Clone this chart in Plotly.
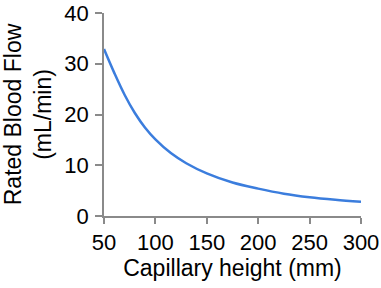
import plotly.graph_objects as go

capillary_height_mm = [50, 60, 70, 80, 90, 100, 115, 130, 150, 175, 200, 225, 250, 275, 300]
rated_flow_ml_min = [32.9, 28.2, 23.9, 20.3, 17.4, 15.1, 12.4, 10.4, 8.4, 6.6, 5.4, 4.4, 3.7, 3.2, 2.8]

x_ticks = [50, 100, 150, 200, 250, 300]
y_ticks = [0, 10, 20, 30, 40]

fig = go.Figure()
fig.add_trace(go.Scatter(
    x=capillary_height_mm, y=rated_flow_ml_min, mode="lines",
    line=dict(color="#3b7ddd", width=2.5, shape="spline", smoothing=1.0),
    showlegend=False, hoverinfo="skip", cliponaxis=False,
))

axis_color = "#8a8a8a"
fam = "Arial, Liberation Sans, sans-serif"
tick_font = dict(family=fam, size=22, color="black")
title_font = dict(family=fam, size=23, color="black")

fig.update_layout(
    width=381, height=288,
    margin=dict(l=104, r=20, t=13, b=72, autoexpand=False),
    paper_bgcolor="white", plot_bgcolor="white",
    font=tick_font,
    xaxis=dict(
        range=[50, 300], tickvals=x_ticks, ticktext=[str(v) for v in x_ticks],
        showline=True, linecolor=axis_color, linewidth=1.5,
        ticks="outside", ticklen=6, tickcolor=axis_color, tickwidth=1.5,
        tickfont=tick_font, automargin=False,
        showgrid=False, zeroline=False,
        title=dict(text="Capillary height (mm)", standoff=4, font=title_font),
    ),
    yaxis=dict(
        range=[0, 40], tickvals=y_ticks, ticktext=[str(v) for v in y_ticks],
        showline=True, linecolor=axis_color, linewidth=1.5,
        ticks="outside", ticklen=7, tickcolor=axis_color, tickwidth=1.5,
        tickfont=tick_font, ticklabelstandoff=2, automargin=False,
        showgrid=False, zeroline=False,
        title=dict(text="Rated Blood Flow<br>(mL/min)", standoff=14, font=title_font),
    ),
)

fig.write_html("out.html", config={"displayModeBar": False},
               post_script="document.body.style.margin='0';")
